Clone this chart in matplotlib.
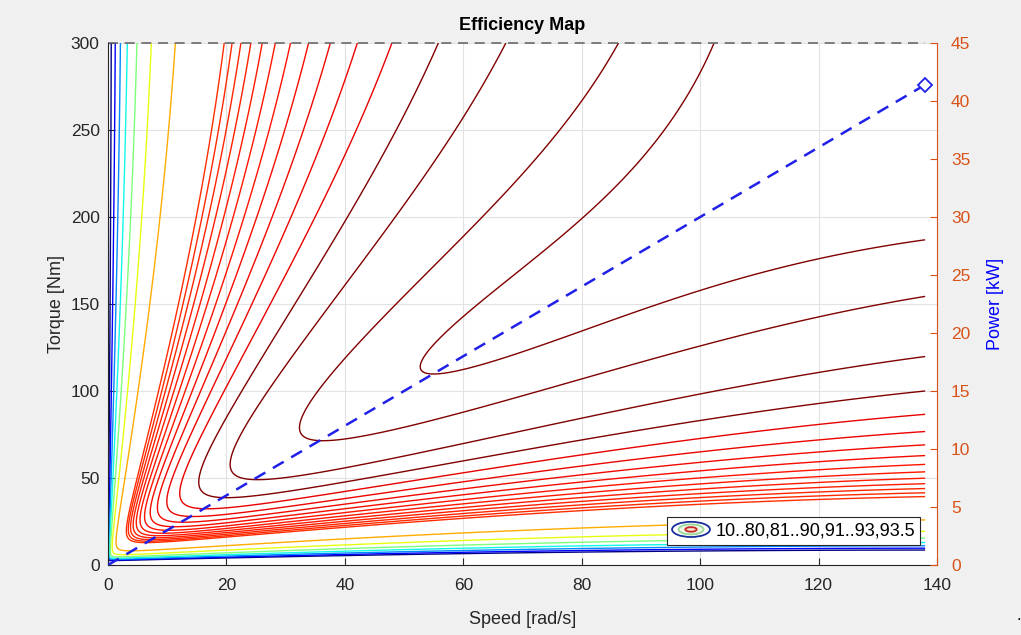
import numpy as np
import matplotlib.pyplot as plt
from matplotlib.legend_handler import HandlerBase
from matplotlib.lines import Line2D
from matplotlib.patches import Ellipse

plt.rcParams["font.family"] = ["Liberation Sans", "DejaVu Sans"]

SPEED_MAX = 138.0   # rad/s
TORQUE_MAX = 300.0  # Nm
FRICTION_TORQUE = 2.2  # Nm, from where the low-speed lines bend over

# contour levels of the map (%)
levels = [10, 20, 30, 40, 50, 60, 70, 80,
          81, 82, 83, 84, 85, 86, 87, 88, 89, 90,
          91, 92, 93, 93.5]
# where each level sits on the jet colormap
level_cmap_pos = [0.0, 0.11, 0.26, 0.37, 0.5, 0.63, 0.73, 0.86,
                  0.865, 0.87, 0.875, 0.88, 0.885, 0.89, 0.895, 0.9, 0.905, 0.91,
                  1.0, 1.0, 1.0, 1.0]

# points: level (%), speed (rad/s), torque (Nm)
# where each line leaves the top of the map (T = 300 Nm)
top_level = [10, 20, 30, 40, 50, 60, 70, 80, 81, 82, 83, 84, 85, 86, 87, 88, 89, 90, 91, 92, 93, 93.5]
top_speed = [0.6, 1.3, 2.3, 3.7, 5.4, 7.9, 12.4, 20.6, 21.8, 23.5, 25.2, 27.2, 29.2, 31.9, 35.0, 38.5,
             42.9, 48.1, 55.1, 64.5, 78.9, 105.0]
# where each line ends on the right (w = 138 rad/s)
right_level = [10, 70, 80, 81, 82, 83, 84, 85, 86, 87, 88, 89, 90, 91, 92, 93, 93.5]
right_torque = [9.5, 30.0, 44.8, 46.6, 48.9, 51.0, 54.6, 58.6, 62.0, 67.0, 73.0, 80.0, 89.0, 100.6,
                116.0, 139.7, 184.5]
# lower arms at w = 91.5 rad/s
mid_level = [86, 87, 88, 89, 90, 91, 92, 93, 93.5]
mid_torque = [39.0, 44.0, 50.8, 58.6, 66.0, 73.8, 84.3, 102.5, 142.0]
# lower arms at w = 49.3 rad/s
left_level = [90, 91, 92, 93]
left_torque = [40.0, 47.0, 55.6, 70.3]
# noses and upper arms of the inner lines
nose_level = [90, 91, 92, 93, 93, 93, 93.5, 93.5, 93.5, 93.5, 70]
nose_speed = [9.9, 13.0, 18.1, 29.3, 32.4, 49.3, 64.1, 67.9, 71.8, 65.6, 2.2]
nose_torque = [37.0, 43.0, 51.0, 70.0, 63.8, 175.0, 139.8, 127.8, 181.0, 162.0, 7.5]
# low-efficiency lines near the speed axis at w = 40 rad/s
low_level = [70, 60, 50, 40, 10]
low_torque = [12.6, 9.8, 7.7, 6.0, 3.8]

# power line at maximum torque
power_speed = [0.0, 138.0]
power_kw = [0.0, 41.4]


def mech_terms(w, T):
    # drag and windage taken off the shaft (friction torque is fixed)
    return [w ** 2, w ** 3]


def elec_terms(w, T):
    # load losses added to the input power
    return [T ** 2, T ** 3, T ** 2 * w, T ** 2 * w ** 2, T * w, T * w ** 2]


def efficiency(w, T, coef):
    n = len(mech_terms(w, T))
    mech = FRICTION_TORQUE * w + sum(c * t for c, t in zip(coef[:n], mech_terms(w, T)))
    elec = sum(c * t for c, t in zip(coef[n:], elec_terms(w, T)))
    p = T * w
    den = p + elec
    return (p - mech) / np.where(den < 1e-9, 1e-9, den), den


def fit_map():
    e = np.concatenate([top_level, right_level, mid_level, left_level, nose_level, low_level]) / 100
    w = np.concatenate([top_speed, np.full(len(right_level), SPEED_MAX), np.full(len(mid_level), 91.5),
                        np.full(len(left_level), 49.3), nose_speed, np.full(len(low_level), 40.0)])
    T = np.concatenate([np.full(len(top_level), TORQUE_MAX), right_torque, mid_torque, left_torque,
                        nose_torque, low_torque])
    p = T * w
    A = np.column_stack(mech_terms(w, T) + [e * t for t in elec_terms(w, T)])
    b = (1 - e) * p - FRICTION_TORQUE * w
    wt = 1 / ((1 - e) * p)
    coef = None
    for _ in range(12):
        coef, *_ = np.linalg.lstsq(A * wt[:, None], b * wt, rcond=None)
        # reweight so the residual becomes a distance in pixels
        _, den = efficiency(w, T, coef)
        gw = (efficiency(w + 0.05, T, coef)[0] - efficiency(w - 0.05, T, coef)[0]) / 0.1 / 5.92
        gt = (efficiency(w, T + 0.1, coef)[0] - efficiency(w, T - 0.1, coef)[0]) / 0.2 / 1.74
        g = np.hypot(gw, gt)
        wt = 1 / (np.abs(den) * np.maximum(g, 1e-5))
        wt /= np.median(wt)
        wt = np.clip(wt, 0.05, 20)
    return coef


class ContourIcon(HandlerBase):
    def create_artists(self, legend, orig_handle, xdescent, ydescent, width, height, fontsize, trans):
        cx = -xdescent + width / 2
        cy = -ydescent + height / 2
        rings = [(1.0, "#1a2f9c", "none"), (0.66, "#9ad89a", "#eef6e6"), (0.3, "#c8282a", "#f3e3c8")]
        arts = []
        for s, ec, fc in rings:
            arts.append(Ellipse((cx, cy), width * s, height * 1.2 * s, edgecolor=ec, facecolor=fc,
                                lw=1.3, transform=trans))
        return arts


coef = fit_map()
speed = np.linspace(0, SPEED_MAX, 900)
torque = np.linspace(0, TORQUE_MAX, 900)
W, T = np.meshgrid(speed, torque)
eta = np.clip(efficiency(W, T, coef)[0] * 100, -50, 100)

fig = plt.figure(figsize=(10.21, 6.35), dpi=100, facecolor="#f0f0f0")
ax = fig.add_axes([108 / 1021, 70 / 635, 829 / 1021, 522 / 635])
ax.set_facecolor("white")
line_colors = [plt.cm.jet(p) for p in level_cmap_pos]
ax.contour(W, T, eta, levels=levels, colors=line_colors, linewidths=1.0)
ax.plot([0, SPEED_MAX], [TORQUE_MAX, TORQUE_MAX], "--", color="#6a6a6a", lw=1.2, dashes=(6, 4),
        clip_on=False)

dark = "#262626"
orange = "#d95319"
ax.set_xlim(0, 140)
ax.set_ylim(0, 300)
ax.set_xticks(np.arange(0, 141, 20))
ax.set_yticks(np.arange(0, 301, 50))
ax.grid(True, color="#e2e2e2", lw=0.8)
ax.set_axisbelow(True)
ax.tick_params(direction="in", labelsize=12.5, colors=dark, length=5)
ax.tick_params(axis="x", pad=9)
ax.tick_params(axis="y", pad=6)
ax.spines["top"].set_visible(False)
ax.spines["right"].set_visible(False)
for s in ["left", "bottom"]:
    ax.spines[s].set_color(dark)
ax.set_xlabel("Speed [rad/s]", fontsize=13, color=dark, labelpad=13)
ax.set_ylabel("Torque [Nm]", fontsize=13, color=dark)
ax.set_title("Efficiency Map", fontsize=13, fontweight="bold", color="black", pad=9)

ax2 = ax.twinx()
ax2.plot(power_speed, power_kw, "--", color="#2020e8", lw=1.8, dashes=(5, 3.5),
         marker="D", markevery=[-1], mfc="white", mec="#2020e8", ms=7, mew=1.3)
ax2.set_ylim(0, 45)
ax2.set_yticks(np.arange(0, 46, 5))
ax2.tick_params(direction="in", labelsize=12.5, colors=orange, length=5, pad=10)
for s in ["top", "left", "bottom"]:
    ax2.spines[s].set_visible(False)
ax2.spines["right"].set_color(orange)
ax2.set_ylabel("Power [kW]", fontsize=13, color="blue", labelpad=12)

proxy = Line2D([], [])
leg = ax2.legend([proxy], ["10..80,81..90,91..93,93.5"], handler_map={proxy: ContourIcon()},
                 loc="lower right", bbox_to_anchor=(0.98, 0.038), borderaxespad=0, fontsize=13,
                 fancybox=False, framealpha=1, edgecolor="#262626", handlelength=2.1,
                 handletextpad=0.3, borderpad=0.3)
leg.get_frame().set_linewidth(0.8)

fig.text(1016 / 1021, 1 - 620 / 635, ".", fontsize=12, color="black")

fig.savefig("out.png", dpi=100, facecolor=fig.get_facecolor())
